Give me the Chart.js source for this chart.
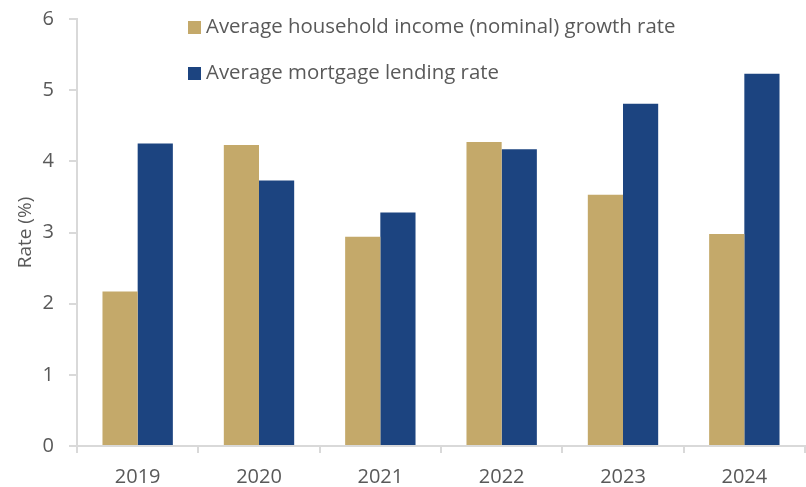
<!DOCTYPE html>
<html>
<head>
<meta charset="utf-8">
<script src="https://cdn.jsdelivr.net/npm/chart.js@4/dist/chart.umd.min.js"></script>
<style>
  html, body { margin: 0; padding: 0; background: #fff; }
  #wrap { width: 806px; height: 487px; position: relative; }
</style>
</head>
<body>
<div id="wrap"><canvas id="c"></canvas></div>
<script>
const years = ['2019', '2020', '2021', '2022', '2023', '2024'];
const incomeGrowth = [2.17, 4.23, 2.94, 4.27, 3.53, 2.98];
const mortgageRate = [4.25, 3.73, 3.28, 4.17, 4.81, 5.23];
const yTicks = [0, 1, 2, 3, 4, 5, 6];
const seriesNames = ['Average household income (nominal) growth rate', 'Average mortgage lending rate'];

const GOLD = '#C4A96A';
const BLUE = '#1C4480';
const AXIS = '#D9D9D9';
const TEXT = '#595959';
const FONT = "'Open Sans', 'Noto Sans', sans-serif";

// Legend drawn inside the plot area, stacked in two rows
const innerLegend = {
  id: 'innerLegend',
  afterDraw(chart) {
    const ctx = chart.ctx;
    ctx.save();
    ctx.font = '20.4px ' + FONT;
    ctx.textBaseline = 'middle';
    chart.data.datasets.forEach((ds, i) => {
      const y = 27.5 + i * 46;
      ctx.fillStyle = ds.backgroundColor;
      ctx.fillRect(188, y - 6.5, 13, 13);
      ctx.fillStyle = TEXT;
      ctx.fillText(ds.label, 206, y);
    });
    ctx.restore();
  }
};

new Chart(document.getElementById('c'), {
  type: 'bar',
  data: {
    labels: years,
    datasets: [
      { label: seriesNames[0], data: incomeGrowth, backgroundColor: GOLD },
      { label: seriesNames[1], data: mortgageRate, backgroundColor: BLUE }
    ]
  },
  options: {
    responsive: true,
    maintainAspectRatio: false,
    animation: false,
    layout: { padding: { top: 0, right: 1, left: 0, bottom: 0 } },
    plugins: { legend: { display: false }, tooltip: { enabled: false } },
    datasets: { bar: { categoryPercentage: 0.58, barPercentage: 1.0 } },
    scales: {
      x: {
        grid: { display: true, drawOnChartArea: false, drawTicks: true, tickLength: 7, color: AXIS, lineWidth: 2, offset: true },
        border: { display: true, color: AXIS, width: 2 },
        ticks: { color: TEXT, font: { family: FONT, size: 20 }, padding: 12 },
        afterFit(scale) { scale.height = 41; }
      },
      y: {
        min: 0, max: 6,
        afterBuildTicks(scale) { scale.ticks = yTicks.map(v => ({ value: v })); },
        grid: { display: true, drawOnChartArea: false, drawTicks: true, tickLength: 8, color: AXIS, lineWidth: 2 },
        border: { display: true, color: AXIS, width: 2 },
        ticks: { color: TEXT, font: { family: FONT, size: 20 }, padding: 15 },
        title: { display: true, text: 'Rate (%)', color: TEXT, font: { family: FONT, size: 19 }, padding: { top: 14, bottom: 0 } },
        afterFit(scale) { scale.width = 77; scale.paddingTop = 19; scale.paddingBottom = 0; }
      }
    }
  },
  plugins: [innerLegend]
});
</script>
</body>
</html>
